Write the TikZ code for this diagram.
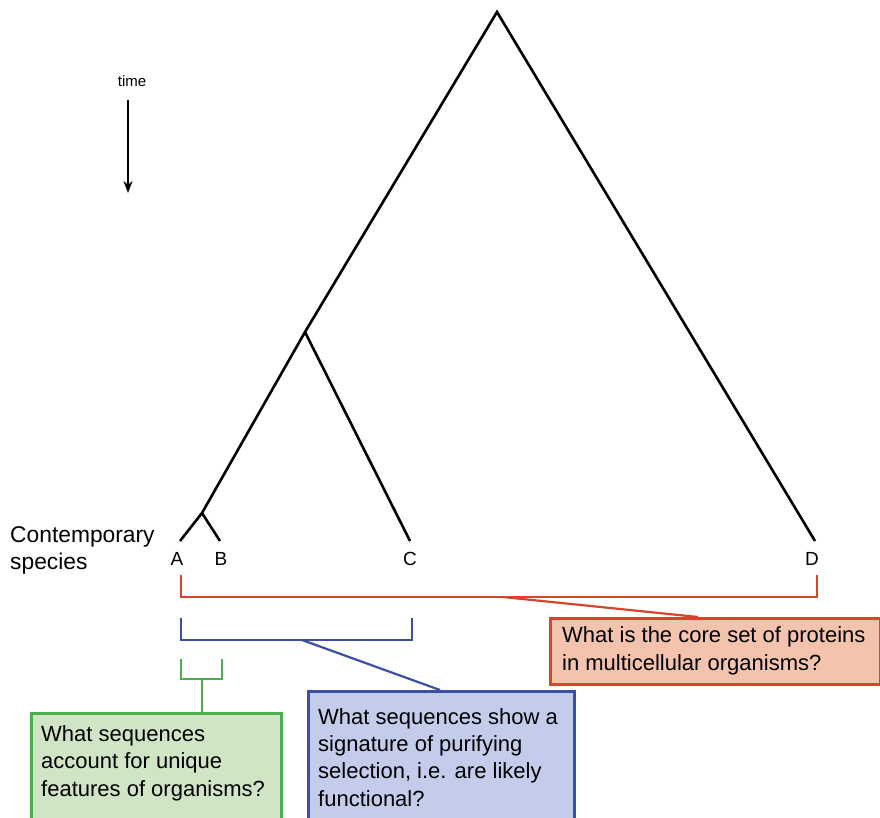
\documentclass[tikz,border=0pt]{standalone}
\usepackage{fontspec}
\setmainfont{Liberation Sans}
\usetikzlibrary{arrows.meta}
\definecolor{redline}{HTML}{D9432C}
\definecolor{redfill}{HTML}{F3C3AE}
\definecolor{blueline}{HTML}{3B4FA3}
\definecolor{bluefill}{HTML}{C3CCEA}
\definecolor{greenline}{HTML}{4DAE4F}
\definecolor{greenfill}{HTML}{D0E5C6}
\tikzset{
  tree/.style={line width=2.6pt, black},
  leaf/.style={font=\fontsize{19}{20}\selectfont, inner sep=0pt, anchor=base},
  qbox/.style={draw, line width=2.6pt, anchor=north west, inner sep=0pt},
  qtext/.style={anchor=base west, align=left, inner sep=0pt, font=\fontsize{22}{27.2}\selectfont},
  bracket/.style={line width=2.8pt},
}
\begin{document}
\begin{tikzpicture}[x=1pt,y=-1pt]
\useasboundingbox (0,0) rectangle (880,817);
\fill[white] (0,0) rectangle (880,817);
% tree
\coordinate (root) at (497,12);
\coordinate (n1) at (305,332);
\coordinate (n2) at (202,513);
\coordinate (tA) at (180,541);
\coordinate (tB) at (220,541);
\coordinate (tC) at (410,541);
\coordinate (tD) at (815,541);
\draw[tree, line join=miter] (tA) -- (n2) -- (n1) -- (root) -- (tD);
\draw[tree] (n2) -- (tB);
\draw[tree] (n1) -- (tC);
\node[leaf] (A) at (177,565) {A};
\node[leaf] (B) at (221,565) {B};
\node[leaf] (C) at (410,565) {C};
\node[leaf] (D) at (812,565) {D};
\node[anchor=base west, inner sep=0pt, font=\fontsize{22.8}{24}\selectfont] (cs1) at (10,542) {Contemporary};
\node[anchor=base west, inner sep=0pt, font=\fontsize{22.8}{24}\selectfont] (cs2) at (10,569) {species};
% time
\node[inner sep=0pt, font=\fontsize{15}{18}\selectfont] (time) at (132,81) {time};
\coordinate (tarr) at (128,193);
\draw[line width=1.8pt, -{Stealth[length=12pt,width=9pt]}] (128,100) -- (tarr);
% red bracket
\coordinate (r1) at (181,575);
\coordinate (r2) at (817,575);
\draw[bracket, redline] (r1) -- (181,597) -- (817,597) -- (r2);
\node[qbox, redline, fill=redfill, minimum width=330pt, minimum height=66pt] (rq) at (549,617) {};
\node[qtext] (rt) at (562,670) {What is the core set of proteins\\in multicellular organisms?};
\coordinate (rc) at (503,597);
\draw[redline, line width=2.2pt] (rc) -- (rq.north west -| 698,617);
% blue bracket
\coordinate (b1) at (181,618);
\coordinate (b2) at (412,618);
\draw[bracket, blueline] (b1) -- (181,640) -- (412,640) -- (b2);
\node[qbox, blueline, fill=bluefill, minimum width=266pt, minimum height=140pt] (bq) at (307,690) {};
\node[qtext] (bt) at (318,806) {What sequences show a\\signature of purifying\\selection, i.e. are likely\\functional?};
\coordinate (bc) at (302,640);
\draw[blueline, line width=2.2pt] (bc) -- (bq.north west -| 440,690);
% green bracket
\coordinate (g1) at (181,659);
\coordinate (g2) at (222,659);
\draw[bracket, greenline] (g1) -- (181,679) -- (222,679) -- (g2);
\node[qbox, greenline, fill=greenfill, minimum width=250pt, minimum height=130pt] (gq) at (30,712) {};
\node[qtext] (gt) at (41,796) {What sequences\\account for unique\\features of organisms?};
\draw[bracket, greenline] (202,679) -- (gq.north -| 202,712);
\end{tikzpicture}
\end{document}
